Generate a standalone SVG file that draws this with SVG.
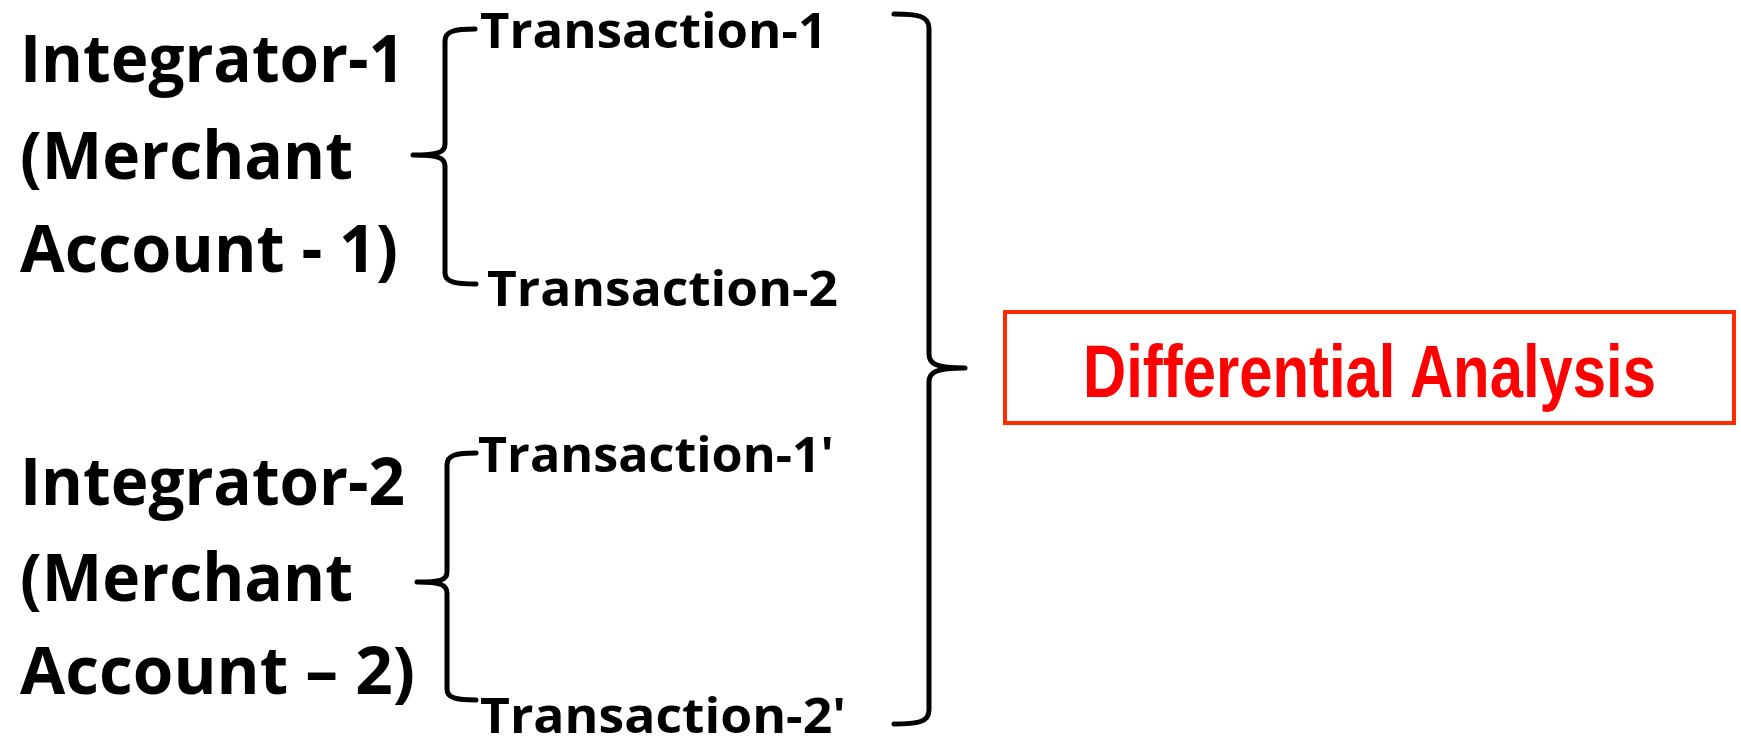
<svg xmlns="http://www.w3.org/2000/svg" width="1741" height="736" viewBox="0 0 1741 736">
  <style>
    .big { font-family: "Open Sans", Lato, sans-serif; font-weight: 700; font-size: 67px; fill: #000; }
    .txn { font-family: "Open Sans", Lato, sans-serif; font-weight: 700; font-size: 49px; fill: #000; }
    .brace { fill: none; stroke: #000; stroke-width: 5; stroke-linejoin: round; stroke-linecap: round; }
    .result-box { fill: #fff; stroke: #ff2a00; stroke-width: 4; }
    .result-text { font-family: "Liberation Sans Narrow", "Liberation Sans", Arial, sans-serif; font-weight: 700; font-size: 74px; fill: #ff0000; }
  </style>

  <!-- First integrator and its transactions -->
  <g id="integrator-1">
    <text class="big" x="20" y="82" textLength="385" lengthAdjust="spacingAndGlyphs">Integrator-1</text>
    <text class="big" x="20" y="179" textLength="333" lengthAdjust="spacingAndGlyphs">(Merchant</text>
    <text class="big" x="20" y="272" textLength="378" lengthAdjust="spacingAndGlyphs">Account - 1)</text>
  </g>
  <g id="transaction-1">
    <text class="txn" x="480" y="48" textLength="347" lengthAdjust="spacingAndGlyphs">Transaction-1</text>
  </g>
  <g id="transaction-2">
    <text class="txn" x="487" y="306" textLength="351" lengthAdjust="spacingAndGlyphs">Transaction-2</text>
  </g>

  <!-- Second integrator and its transactions -->
  <g id="integrator-2">
    <text class="big" x="20" y="505" textLength="385" lengthAdjust="spacingAndGlyphs">Integrator-2</text>
    <text class="big" x="20" y="601" textLength="333" lengthAdjust="spacingAndGlyphs">(Merchant</text>
    <text class="big" x="20" y="694" textLength="395" lengthAdjust="spacingAndGlyphs">Account – 2)</text>
  </g>
  <g id="transaction-1p">
    <text class="txn" x="478" y="472" textLength="356" lengthAdjust="spacingAndGlyphs">Transaction-1'</text>
  </g>
  <g id="transaction-2p">
    <text class="txn" x="480" y="733" textLength="366" lengthAdjust="spacingAndGlyphs">Transaction-2'</text>
  </g>

  <!-- Result -->
  <g id="differential-analysis">
    <rect class="result-box" x="1005" y="312" width="729" height="111"/>
    <text class="result-text" x="1083" y="397" textLength="573" lengthAdjust="spacingAndGlyphs">Differential Analysis</text>
  </g>

  <!-- Grouping braces -->
  <g id="connectors">
    <path class="brace" d="M475,29 C455,29 445,31 445,41 L445,144 C445,152 439,155 413,155 C439,155 445,158 445,166 L445,273 C445,282 455,284 476,284"/>
    <path class="brace" d="M476,453 C456,453 447,455 447,465 L447,572 C447,580 441,582 417,582 C441,582 447,585 447,593 L447,689 C447,698 456,700 476,700"/>
    <path class="brace" d="M894,14 C918,14 929,16 929,28 L929,354 C929,364 936,368 965,368 C936,368 929,372 929,382 L929,710 C929,722 918,724 894,724"/>
  </g>
</svg>
